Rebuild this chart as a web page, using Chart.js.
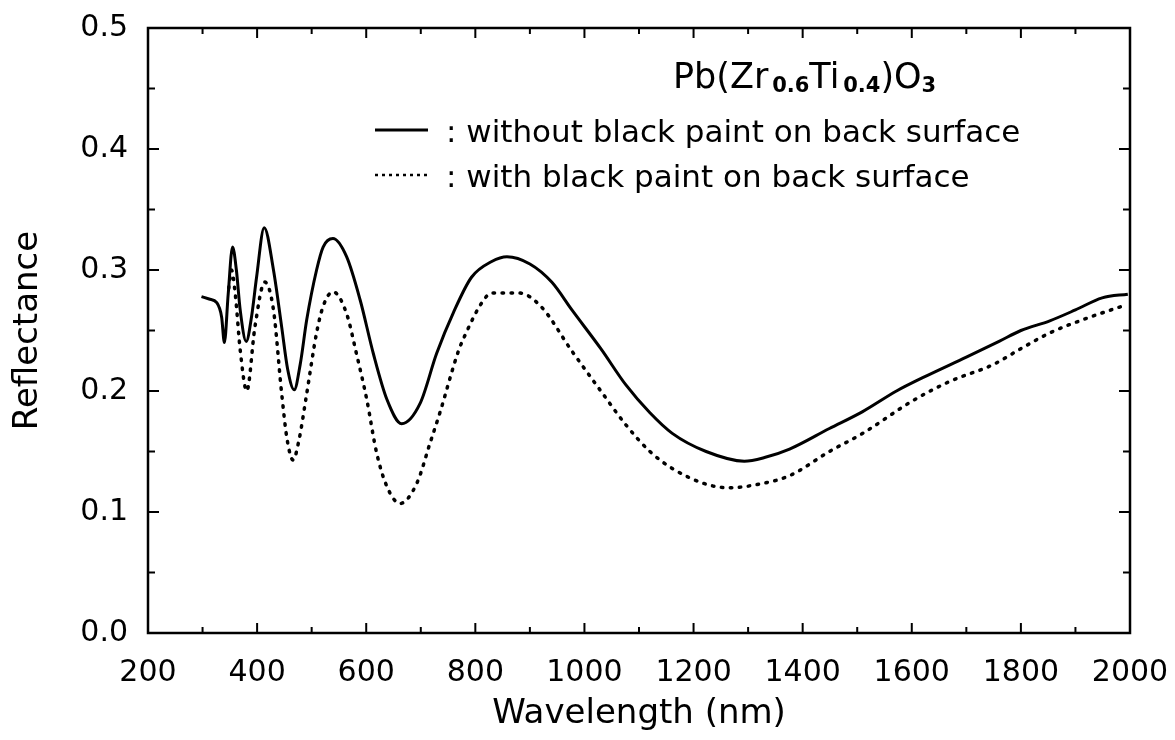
<!DOCTYPE html>
<html>
<head>
<meta charset="utf-8">
<script src="https://cdn.jsdelivr.net/npm/chart.js@4.4.0/dist/chart.umd.min.js"></script>
<style>
  html, body { margin: 0; padding: 0; background: #fff; }
  #wrap { width: 1175px; height: 740px; }
</style>
</head>
<body>
<div id="wrap"><canvas id="myChart"></canvas></div>
<script>
// valores
const wlSinPintura = [298, 312, 326, 335, 340, 347, 355, 362, 369, 380, 390, 399, 413, 430, 445, 456, 468, 479, 491, 509, 521, 539, 564, 589, 613, 638, 665, 699, 729, 760, 793, 830, 858, 900, 940, 977, 1030, 1076, 1120, 1161, 1223, 1293, 1330, 1376, 1449, 1510, 1572, 1620, 1700, 1760, 1800, 1853, 1900, 1949, 1996];
const refSinPintura = [0.278, 0.276, 0.273, 0.261, 0.24, 0.28, 0.319, 0.3, 0.267, 0.241, 0.262, 0.294, 0.335, 0.3, 0.253, 0.218, 0.201, 0.222, 0.259, 0.3, 0.319, 0.326, 0.311, 0.275, 0.231, 0.193, 0.173, 0.19, 0.231, 0.265, 0.294, 0.307, 0.311, 0.305, 0.29, 0.267, 0.235, 0.205, 0.182, 0.165, 0.15, 0.142, 0.145, 0.152, 0.169, 0.183, 0.2, 0.211, 0.228, 0.241, 0.25, 0.258, 0.267, 0.277, 0.28];

const wlConPintura = [348, 353, 360, 369, 381, 396, 414, 430, 445, 455, 466, 477, 491, 509, 521, 539, 564, 582, 601, 619, 638, 662, 693, 717, 735, 769, 782, 812, 830, 880, 920, 977, 1030, 1076, 1120, 1161, 1223, 1265, 1320, 1376, 1449, 1510, 1602, 1670, 1750, 1800, 1853, 1920, 1985];
const refConPintura = [0.285, 0.3, 0.28, 0.234, 0.2, 0.253, 0.29, 0.267, 0.198, 0.16, 0.143, 0.16, 0.198, 0.248, 0.27, 0.282, 0.264, 0.231, 0.193, 0.149, 0.121, 0.107, 0.124, 0.157, 0.182, 0.233, 0.247, 0.273, 0.281, 0.281, 0.27, 0.233, 0.2, 0.172, 0.15, 0.136, 0.123, 0.12, 0.123, 0.13, 0.15, 0.165, 0.192, 0.208, 0.222, 0.235, 0.248, 0.26, 0.27];

const xMajor = [200, 400, 600, 800, 1000, 1200, 1400, 1600, 1800, 2000];
const yMajor = [0.0, 0.1, 0.2, 0.3, 0.4, 0.5];
const etiquetas = [': without black paint on back surface', ': with black paint on back surface'];

const FONT = '"DejaVu Sans", sans-serif';

const puntos = (xs, ys) => xs.map((x, i) => ({ x: x, y: ys[i] }));

// marco y marcas hacia adentro en los cuatro lados
const marco = {
  id: 'marco',
  afterDraw(chart) {
    const c = chart.ctx;
    const a = chart.chartArea;
    const sx = chart.scales.x, sy = chart.scales.y;
    c.save();
    c.strokeStyle = '#000';
    c.lineWidth = 2.5;
    c.strokeRect(a.left, a.top, a.right - a.left, a.bottom - a.top);
    c.lineWidth = 2;
    c.beginPath();
    for (let v = 200; v <= 2000; v += 100) {
      const px = sx.getPixelForValue(v);
      const len = v % 200 === 0 ? 10 : 6;
      c.moveTo(px, a.bottom); c.lineTo(px, a.bottom - len);
      c.moveTo(px, a.top); c.lineTo(px, a.top + len);
    }
    for (let k = 0; k <= 10; k++) {
      const py = sy.getPixelForValue(k * 0.05);
      const len = k % 2 === 0 ? 11 : 7;
      c.moveTo(a.left, py); c.lineTo(a.left + len, py);
      c.moveTo(a.right, py); c.lineTo(a.right - len, py);
    }
    c.stroke();

    // titulo de la muestra con subindices
    let x = 673;
    const yb = 88;
    c.fillStyle = '#000';
    c.textBaseline = 'alphabetic';
    c.textAlign = 'left';
    const trozos = [
      ['Pb(Zr', 35, 0, 'normal'], [' ', 12, 0, 'normal'], ['0.6', 21, 4, 'bold'],
      ['Ti', 35, 0, 'normal'], [' ', 12, 0, 'normal'], ['0.4', 21, 4, 'bold'],
      [')O', 35, 0, 'normal'], ['3', 21, 4, 'bold']
    ];
    trozos.forEach(t => {
      c.font = t[3] + ' ' + t[1] + 'px ' + FONT;
      c.fillText(t[0], x, yb + t[2]);
      x += c.measureText(t[0]).width;
    });

    // leyenda
    c.font = '31px ' + FONT;
    c.lineWidth = 3;
    c.beginPath(); c.moveTo(375, 130); c.lineTo(428, 130); c.stroke();
    c.fillText(etiquetas[0], 446, 142);
    c.lineWidth = 2.5;
    c.setLineDash([3, 4]);
    c.beginPath(); c.moveTo(375, 175); c.lineTo(428, 175); c.stroke();
    c.setLineDash([]);
    c.fillText(etiquetas[1], 446, 187);
    c.restore();
  }
};

const ctx = document.getElementById('myChart');

new Chart(ctx, {
  type: 'line',
  data: {
    datasets: [{
      label: etiquetas[0],
      data: puntos(wlSinPintura, refSinPintura),
      borderColor: '#000',
      borderWidth: 3,
      pointRadius: 0,
      cubicInterpolationMode: 'monotone'
    }, {
      label: etiquetas[1],
      data: puntos(wlConPintura, refConPintura),
      borderColor: '#000',
      borderWidth: 3.5,
      borderDash: [1.5, 7.5],
      borderCapStyle: 'round',
      pointRadius: 0,
      cubicInterpolationMode: 'monotone'
    }]
  },
  options: {
    responsive: true,
    maintainAspectRatio: false,
    animation: false,
    layout: { padding: { left: 8, right: 45, top: 28, bottom: 0 } },
    plugins: { legend: { display: false }, tooltip: { enabled: false } },
    scales: {
      x: {
        type: 'linear',
        min: 200, max: 2000,
        afterBuildTicks: s => { s.ticks = xMajor.map(v => ({ value: v })); },
        afterFit: s => { s.height = 107; s.paddingLeft = 0; s.paddingRight = 0; },
        grid: { display: false, drawTicks: false },
        border: { display: false },
        ticks: { color: '#000', padding: 22, font: { family: FONT, size: 30 }, callback: v => String(v) },
        title: { display: true, text: 'Wavelength (nm)', color: '#000', padding: { top: 0, bottom: 5 }, font: { family: FONT, size: 34 } }
      },
      y: {
        type: 'linear',
        min: 0, max: 0.5,
        afterBuildTicks: s => { s.ticks = yMajor.map(v => ({ value: v })); },
        afterFit: s => { s.width = 140; s.paddingTop = 0; s.paddingBottom = 0; },
        grid: { display: false, drawTicks: false },
        border: { display: false },
        ticks: { color: '#000', padding: 20, font: { family: FONT, size: 30 }, callback: v => v.toFixed(1) },
        title: { display: true, text: 'Reflectance', color: '#000', padding: { top: 0, bottom: 0 }, font: { family: FONT, size: 34 } }
      }
    }
  },
  plugins: [marco]
});
</script>
</body>
</html>
